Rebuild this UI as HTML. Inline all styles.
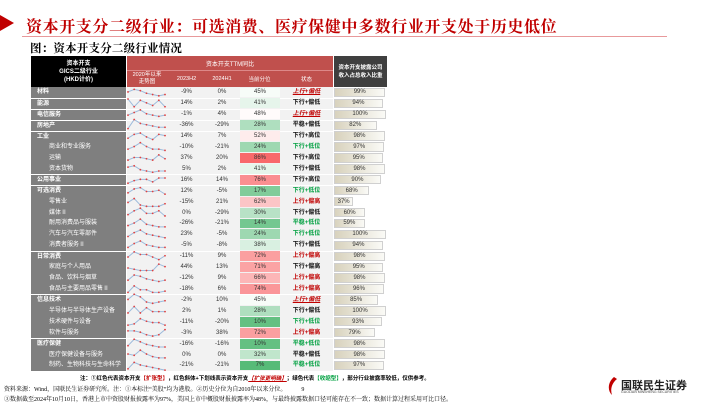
<!DOCTYPE html>
<html><head><meta charset="utf-8">
<style>
body{margin:0;width:720px;height:404px;background:#fff;position:relative;overflow:hidden;font-family:"Liberation Sans","Noto Sans CJK SC",sans-serif;}
.a{position:absolute;box-sizing:border-box;}
.c{display:flex;align-items:center;justify-content:center;text-align:center;}
#title{left:26px;top:14px;font-family:"Liberation Serif","Noto Serif CJK SC",serif;font-weight:bold;color:#c00000;font-size:16px;letter-spacing:0.6px;white-space:nowrap;}
#sub{left:30px;top:40px;font-family:"Liberation Serif","Noto Serif CJK SC",serif;font-weight:bold;font-size:11.5px;letter-spacing:.2px;white-space:nowrap;}
.cell{font-size:6px;color:#333;line-height:1;}
</style></head><body>
<div class="a" style="left:0;top:15px;width:0;height:0;border-left:14px solid #c00000;border-top:8px solid transparent;border-bottom:8px solid transparent;"></div>
<div class="a" id="title">资本开支分二级行业：可选消费、医疗保健中多数行业开支处于历史低位</div>
<div class="a" style="left:22px;top:36px;width:645px;height:1px;background:#e8999b;"></div>
<div class="a" id="sub">图：资本开支分二级行业情况</div>

<div class="a c" style="left:31px;top:56px;width:95px;height:31px;background:#000;color:#fff;font-size:6px;font-weight:bold;line-height:8px;">资本开支<br>GICS二级行业<br>(HKD计价)</div>
<div class="a c" style="left:127px;top:56px;width:206px;height:14px;background:#c0504d;color:#fff;font-size:6px;">资本开支TTM同比</div>
<div class="a" style="left:127px;top:70px;width:206px;height:17px;background:#c0504d;border-top:1px solid #d88;"></div>
<div class="a c" style="left:127px;top:70px;width:40px;height:17px;color:#fff;font-size:5.5px;line-height:7px;">2020年以来<br>走势图</div>
<div class="a c" style="left:168px;top:70px;width:37px;height:17px;color:#fff;font-size:5.5px;">2023H2</div>
<div class="a c" style="left:205px;top:70px;width:34px;height:17px;color:#fff;font-size:5.5px;">2024H1</div>
<div class="a c" style="left:239px;top:70px;width:41px;height:17px;color:#fff;font-size:5.5px;">当前分位</div>
<div class="a c" style="left:280px;top:70px;width:53px;height:17px;color:#fff;font-size:5.5px;">状态</div>
<div class="a c" style="left:334px;top:56px;width:53px;height:31px;background:#3f3f3f;color:#fff;font-size:5.5px;line-height:8px;font-weight:bold;">资本开支披露公司<br>收入占总收入比重</div>
<div class="a" style="left:127px;top:87px;width:206px;height:284px;background:#f2f2f2;"></div>
<div id="rows"></div>

<div class="a" style="left:80px;top:374px;font-size:5.5px;font-weight:bold;white-space:nowrap;">注：①红色代表资本开支<span style="color:#c00000">【扩张型】</span>，红色斜体+下划线表示资本开支<span style="color:#c00000;font-style:italic;text-decoration:underline">【扩张更明确】</span>；绿色代表<span style="color:#00a040">【收缩型】</span>，部分行业披露率较低，仅供参考。</div>
<div class="a" style="left:4px;top:384px;font-size:6px;font-family:'Liberation Serif','Noto Serif CJK SC',serif;white-space:nowrap;">资料来源：Wind，国联民生证券研究所。注：①本标注“美股”均为港股。②历史分位为自2010年以来分位。　　　9</div>
<div class="a" style="left:4px;top:394px;font-size:6px;font-family:'Liberation Serif','Noto Serif CJK SC',serif;white-space:nowrap;">③数据截至2024年10月10日，香港上市中资股财报披露率为97%，美国上市中概股财报披露率为48%，与最终披露数据口径可能存在不一致；数据计算过程采用可比口径。</div>
<div class="a" style="left:606px;top:376px;width:96px;height:20px;">
<svg width="14" height="20" style="position:absolute;left:0;top:0"><path d="M8 1 C2 6 1 14 6 19 C4 13 6 7 11 3 Z" fill="#c00000"/></svg>
<div class="a" style="left:15px;top:1px;font-size:11px;font-weight:bold;color:#222;white-space:nowrap;">国联民生证券</div>
<div class="a" style="left:15px;top:14px;font-size:3.5px;color:#444;white-space:nowrap;">GUOLIAN MINSHENG SECURITIES</div>
</div>

<script>
const names=["材料","能源","电信服务","房地产","工业","商业和专业服务","运输","资本货物","公用事业","可选消费","零售业","媒体Ⅱ","耐用消费品与服装","汽车与汽车零部件","消费者服务Ⅱ","日常消费","家庭与个人用品","食品、饮料与烟草","食品与主要用品零售Ⅱ","信息技术","半导体与半导体生产设备","技术硬件与设备","软件与服务","医疗保健","医疗保健设备与服务","制药、生物科技与生命科学"];
const levels=[0,0,0,0,0,1,1,1,0,0,1,1,1,1,1,0,1,1,1,0,1,1,1,0,1,1];
const v2023H2=["-9%","14%","-1%","-36%","14%","-10%","37%","5%","16%","12%","-15%","0%","-26%","23%","-5%","-11%","44%","-12%","-18%","-2%","2%","-11%","-3%","-16%","0%","-21%"];
const v2024H1=["0%","2%","4%","-29%","7%","-21%","20%","2%","14%","-5%","21%","-29%","-21%","-5%","-8%","9%","13%","9%","6%","10%","1%","-20%","38%","-16%","0%","-21%"];
const percentile=[45,41,48,28,52,24,86,41,76,17,62,30,14,24,38,72,71,66,74,45,28,10,72,10,32,7];
const status=["上行+偏低","下行+偏低","上行+偏低","平稳+偏低","下行+高位","下行+低位","下行+高位","下行+偏低","下行+高位","下行+低位","上行+偏高","下行+偏低","平稳+低位","下行+低位","下行+偏低","上行+偏高","下行+偏高","上行+偏高","上行+偏高","上行+偏低","下行+偏低","下行+低位","上行+偏高","平稳+低位","平稳+偏低","平稳+低位"];
const statusType=["u","k","u","k","k","g","k","k","k","g","r","k","g","g","k","r","k","r","r","u","k","g","r","g","k","g"];
const ratio=[99,94,100,82,98,97,95,98,90,68,37,60,59,100,94,98,95,98,96,85,100,93,79,98,98,97];
const trend=[[5,7,6,4,3,2,3],[8,2,7,5,3,7,2],[4,6,8,5,4,3,4],[2,9,6,5,4,3,3],[3,6,7,4,2,6,5],[3,5,8,5,3,3,2],[3,5,5,4,3,7,4],[6,7,4,3,2,3,3],[2,4,5,5,3,6,6],[3,6,7,4,4,5,2],[4,7,2,1,1,1,3],[3,6,8,4,4,6,2],[3,5,8,4,3,2,2],[3,6,8,5,4,3,2],[3,6,8,5,4,3,3],[4,8,6,6,4,2,5],[4,3,2,2,2,7,5],[3,7,6,4,3,2,3],[2,7,4,4,2,2,3],[5,9,7,3,2,3,4],[3,8,3,7,4,4,4],[2,3,7,5,4,4,2],[6,6,5,3,2,3,7],[3,8,6,4,3,2,2],[5,4,8,5,3,2,2],[2,7,5,4,3,2,1]];

const root=document.getElementById('rows');
const Y0=87,RH=10.92;
const yRow=i=>Y0+i*RH;
const sx=(j,n)=>128+j*(37/(n-1));
const sy=(v,top)=>top+RH+0.5-v/10*(RH+2);
function mix(a,b,t){return 'rgb('+a.map((x,k)=>Math.round(x+(b[k]-x)*t)).join(',')+')';}
function pctColor(p){if(p<=47)return mix([255,255,255],[87,187,120],Math.min(1,(47-p)/40));return mix([255,255,255],[248,105,107],Math.min(1,(p-47)/39));}
const statColors={u:'#c00000',r:'#c00000',k:'#111',g:'#00a040'};
function mk(html,css,name){const d=document.createElement('div');d.className='a c cell';d.style.cssText=css;d.innerHTML=html;


root.appendChild(d);return d;}
names.forEach((n,i)=>{
 const t=yRow(i);
 const sep=(levels[i]===0&&i>0)?'border-top:1px solid #fff;':'';
 mk(n,`left:31px;top:${t}px;width:95px;height:${RH}px;background:#7f7f7f;color:#fff;justify-content:flex-start;padding-left:${levels[i]?18:6}px;font-weight:${levels[i]?'normal':'bold'};${sep}`,'row-label');
 if(sep) mk('',`left:127px;top:${t}px;width:206px;height:1px;background:#fff;`,'row-separator');
 mk(v2023H2[i],`left:168px;top:${t}px;width:37px;height:${RH}px;`,'value-2023h2');
 mk(v2024H1[i],`left:205px;top:${t}px;width:34px;height:${RH}px;`,'value-2024h1');
 mk(percentile[i]+'%',`left:240px;top:${t+0.5}px;width:40px;height:${RH-1}px;background:${pctColor(percentile[i])};`,'percentile-cell');
 const ty=statusType[i];
 mk(status[i],`left:280px;top:${t}px;width:53px;height:${RH}px;font-weight:bold;color:${statColors[ty]};${ty==='u'?'font-style:italic;text-decoration:underline;':''}`,'status-cell');
 const w=ratio[i]/100*52;
 mk(ratio[i]+'%',`left:334px;top:${t+0.8}px;width:${w}px;height:${RH-1.6}px;background:linear-gradient(90deg,#d8d2bd,#fafaf6);border:1px solid #d0d0d0;`,'ratio-bar');
 const v=trend[i];
 const ns='http://www.w3.org/2000/svg';
 const svg=document.createElementNS(ns,'svg');
 svg.setAttribute('width','720');svg.setAttribute('height','404');
 svg.style.cssText='position:absolute;left:0;top:0;pointer-events:none';
 
 
 const pl=document.createElementNS(ns,'polyline');
 pl.setAttribute('points',v.map((x,j)=>sx(j,v.length)+','+sy(x,t)).join(' '));
 pl.setAttribute('fill','none');pl.setAttribute('stroke','#9dbbdc');pl.setAttribute('stroke-width','1');
 
 
 svg.appendChild(pl);
 v.forEach((x,j)=>{const c=document.createElementNS(ns,'circle');c.setAttribute('cx',sx(j,v.length));c.setAttribute('cy',sy(x,t));c.setAttribute('r','0.9');c.setAttribute('fill','#e04040');
 
 
 svg.appendChild(c);});
 root.appendChild(svg);
});
</script>
</body></html>
